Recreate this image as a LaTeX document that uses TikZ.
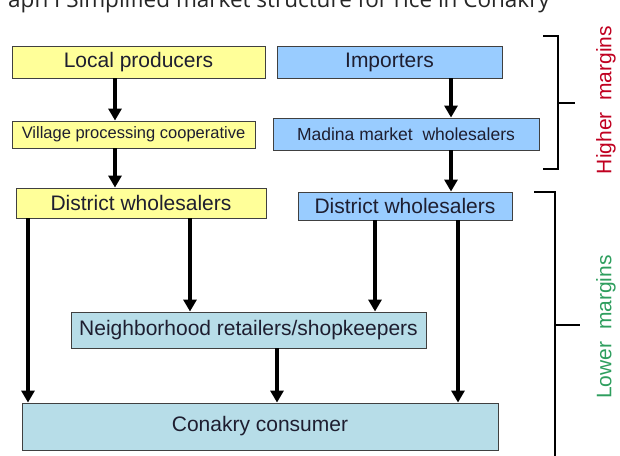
\documentclass[tikz,border=0pt]{standalone}
\usepackage{fontspec}
\setmainfont{Liberation Sans}
\newfontfamily\titlefont{Open Sans}
\usetikzlibrary{arrows.meta}
\definecolor{boxyellow}{HTML}{FFFF99}
\definecolor{boxblue}{HTML}{99CCFF}
\definecolor{boxteal}{HTML}{B7DDE8}
\definecolor{txtdark}{HTML}{1E1E30}
\definecolor{hired}{HTML}{C00020}
\definecolor{logreen}{HTML}{2E9E5E}
\tikzset{
  boxbase/.style={draw=black!75, line width=0.9pt, inner sep=0pt, text=txtdark,
    font=\fontsize{21}{24}\selectfont},
  ybox/.style={boxbase, fill=boxyellow},
  bbox/.style={boxbase, fill=boxblue},
  tbox/.style={boxbase, fill=boxteal},
  arr/.style={line width=3.5pt, -{Triangle[width=13pt,length=12pt]}},
  brk/.style={line width=2.4pt},
}
\begin{document}
\begin{tikzpicture}[x=1pt,y=-1pt]
\useasboundingbox (0,0) rectangle (620,455);
\clip (0,0) rectangle (620,455);
\node[anchor=base west, inner sep=0pt, font=\titlefont\fontsize{22.5}{24}\selectfont, text=black!85] (title) at (8,8) {aph I Simplified market structure for rice in Conakry};

\node[ybox, minimum width=253pt, minimum height=32pt] (lp) at (138.5,62) {Local producers};
\node[bbox, minimum width=225pt, minimum height=32pt] (imp) at (389.5,62) {Importers};
\node[ybox, minimum width=243pt, minimum height=27pt, font=\fontsize{16.5}{19}\selectfont] (vil) at (133.5,134.5) {Village processing cooperative};
\node[bbox, minimum width=266pt, minimum height=32pt, font=\fontsize{17.5}{20}\selectfont] (mad) at (406,134) {Madina market\ \ wholesalers};
\node[ybox, minimum width=250pt, minimum height=30pt] (dy) at (141,203) {District wholesalers};
\node[bbox, minimum width=214pt, minimum height=28pt] (db) at (405,206) {District wholesalers};
\node[tbox, minimum width=355pt, minimum height=36pt] (nb) at (248.5,330) {Neighborhood retailers/shopkeepers};
\node[tbox, minimum width=476pt, minimum height=47pt] (cc) at (260,426.5) {Conakry consumer};

\draw[arr] (lp.south -| 115,0) -- (vil.north -| 115,0);
\draw[arr] (imp.south -| 451,0) -- (mad.north -| 451,0);
\draw[arr] (vil.south -| 115,0) -- (dy.north -| 115,0);
\draw[arr] (mad.south -| 451,0) -- (db.north -| 451,0);
\draw[arr] (dy.south -| 28,0) -- (cc.north -| 28,0);
\draw[arr] (dy.south -| 190,0) -- (nb.north -| 190,0);
\draw[arr] (db.south -| 375,0) -- (nb.north -| 375,0);
\draw[arr] (db.south -| 458,0) -- (cc.north -| 458,0);
\draw[arr] (nb.south -| 277,0) -- (cc.north -| 277,0);

% brackets
\draw[brk] (543,36) -- (558,36) -- (558,169) -- (543,169);
\draw[brk] (558,103) -- (575,103);
\draw[brk] (534,192) -- (555,192) -- (555,460);
\draw[brk] (555,325) -- (580,325);

\node[rotate=90, text=hired, font=\fontsize{21}{23}\selectfont, inner sep=0pt] (hm) at (606,100) {Higher\ \ margins};
\node[rotate=90, text=logreen, font=\fontsize{21}{23}\selectfont, inner sep=0pt] (lm) at (606,327) {Lower\ \ margins};
\end{tikzpicture}
\end{document}
